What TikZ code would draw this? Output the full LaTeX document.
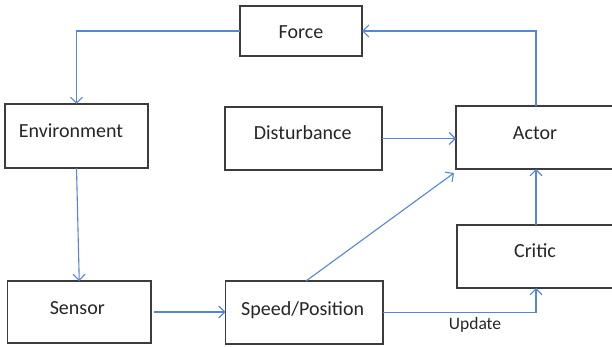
\documentclass[tikz,border=0pt]{standalone}
\usepackage{fontspec}
\setmainfont{Carlito}
\usetikzlibrary{arrows.meta,calc}
\definecolor{boxline}{RGB}{60,60,60}
\definecolor{flow}{RGB}{86,135,215}
\begin{document}
\begin{tikzpicture}[x=1pt,y=-1pt,
  block/.style={draw=boxline,line width=1.2pt,rectangle,inner sep=0pt,outer sep=0pt},
  caption/.style={anchor=base,inner sep=0pt,font=\fontsize{20}{24}\selectfont,text=black!85},
  small/.style={anchor=base,inner sep=0pt,font=\fontsize{17.5}{21}\selectfont,text=black!85},
  conn/.style={draw=flow,line width=1.1pt,-{Straight Barb[length=6pt,width=12pt,line width=1.1pt]}}]
\useasboundingbox (0,0) rectangle (612,347);
\clip (0,0) rectangle (612,347);
\fill[white] (0,0) rectangle (612,347);

% blocks
\node[block,minimum width=122pt,minimum height=50pt] (force) at (301,31) {};
\node[block,minimum width=143pt,minimum height=64pt] (env) at (76.5,136) {};
\node[block,minimum width=157pt,minimum height=63pt] (dist) at (303.5,138.5) {};
\node[block,minimum width=164pt,minimum height=63pt] (actor) at (538,137.5) {};
\node[block,minimum width=163pt,minimum height=63pt] (critic) at (538.5,256.5) {};
\node[block,minimum width=143.5pt,minimum height=62pt] (sensor) at (79.25,312) {};
\node[block,minimum width=157.5pt,minimum height=63pt] (speed) at (304.25,312.5) {};

% block titles
\node[caption] (tforce) at (301,39) {Force};
\node[caption] (tenv) at (71,137.7) {Environment};
\node[caption] (tdist) at (302.7,140) {Disturbance};
\node[caption] (tactor) at (535,140) {Actor};
\node[caption] (tcritic) at (535,257.7) {Critic};
\node[caption] (tsensor) at (77.3,314) {Sensor};
\node[caption] (tspeed) at (302.7,315) {Speed/Position};

% connection points
\coordinate (actortop) at ($(actor.north west)+(80,0)$);
\coordinate (actorbot) at ($(actor.south west)+(80,0)$);
\coordinate (critictop) at ($(critic.north west)+(79,0)$);
\coordinate (criticbot) at ($(critic.south west)+(79,0)$);
\coordinate (speedtop) at ($(speed.north west)+(80.5,0)$);
\coordinate (actorcorner) at ($(actor.south west)+(-2,4)$);
\coordinate (sensorout) at ($(sensor.east)+(2.5,0)$);

% connectors
\draw[conn] (force.west) -| (env.north);
\draw[conn] (actortop) |- (force.east);
\draw[conn] (env.south) -- (sensor.north);
\draw[conn] (sensorout) -- (speed.west |- sensorout);
\draw[conn] (dist.east) -- (dist.east -| actor.west);
\draw[conn] (speedtop) -- (actorcorner);
\draw[conn] (critictop) -- (actorbot);
\draw[conn] (speed.east) -| (criticbot);
\node[small] (update) at (475,329.3) {Update};
\end{tikzpicture}
\end{document}
